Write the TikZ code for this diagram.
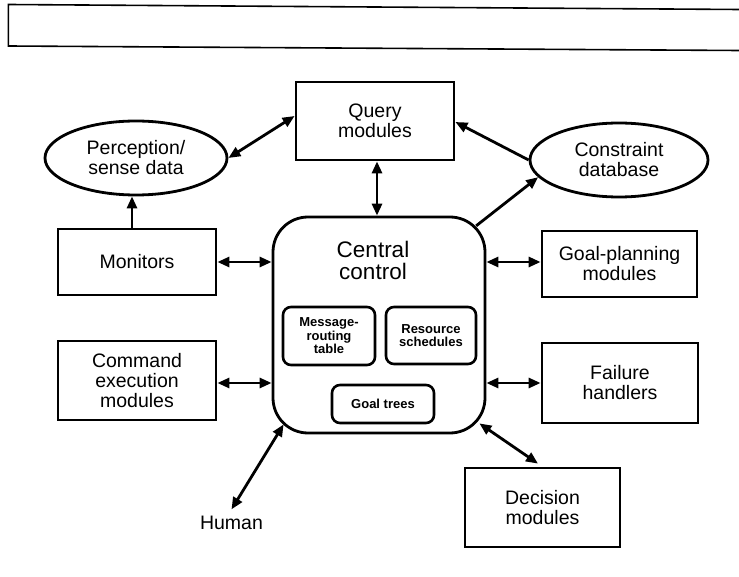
\documentclass[tikz,border=0pt]{standalone}
\usepackage{fontspec}
\setmainfont{Liberation Sans}
\usetikzlibrary{shapes.geometric,arrows.meta,calc}
\begin{document}
\begin{tikzpicture}[x=1pt,y=-1pt,
  lbl/.style={font=\fontsize{19.5}{20}\selectfont, align=center, inner sep=0pt},
  box/.style={lbl, draw, line width=2.8pt, rectangle},
  oval/.style={lbl, draw, line width=2.8pt, ellipse},
  smallbox/.style={draw, line width=2.6pt, rounded corners=8pt, align=center, inner sep=0pt,
     font=\fontsize{13}{13.5}\selectfont\bfseries},
  link/.style={line width=2.8pt, {Triangle[length=12pt,width=10pt]}-{Triangle[length=12pt,width=10pt]}},
  onelink/.style={line width=2.8pt, -{Triangle[length=12pt,width=10pt]}}
]
\useasboundingbox (0,0) rectangle (739,577);
% top frame (open on the right)
\draw[line width=1.6pt] (739,9.5) -- (8.3,4.5) -- (8.3,46) -- (739,50.5);

% nodes
\node[box, minimum width=158pt, minimum height=78pt] (q) at (375,121) {Query\\modules};
\node[oval, minimum width=182pt, minimum height=74pt] (perc) at (136,158) {Perception/\\sense data};
\node[oval, minimum width=178pt, minimum height=74pt] (cons) at (619,160) {Constraint\\database};
\node[draw, line width=2.8pt, rounded corners=35pt, minimum width=212pt, minimum height=216pt, inner sep=0pt] (cc) at (379,325) {};
\node[font=\fontsize{22.5}{22}\selectfont, align=center, inner sep=0pt] (cct) at (373,260) {Central\\control};
\node[smallbox, minimum width=92pt, minimum height=58pt] (msg) at (329,336) {Message-\\routing\\table};
\node[smallbox, minimum width=90pt, minimum height=57pt] (res) at (431,335.5) {Resource\\schedules};
\node[smallbox, minimum width=102pt, minimum height=38pt] (goal) at (383,404) {Goal trees};
\node[box, minimum width=158pt, minimum height=66pt] (mon) at (137,262) {Monitors};
\node[box, minimum width=158pt, minimum height=79pt] (cmd) at (137,380.5) {Command\\execution\\modules};
\node[box, minimum width=155pt, minimum height=66pt] (gp) at (619.5,264) {Goal-planning\\modules};
\node[box, minimum width=156pt, minimum height=80pt] (fail) at (620,383) {Failure\\handlers};
\node[box, minimum width=155pt, minimum height=79pt] (dec) at (542.5,507.5) {Decision\\modules};
\node[lbl, anchor=base] (hum) at (231.5,529) {Human};

% coordinates on the rounded corners of central control
\coordinate (ccNE) at ($(cc.north east)+(-10.25,10.25)$);
\coordinate (ccSW) at ($(cc.south west)+(12,-10)$);
\coordinate (ccSE) at ($(cc.south east)+(-7,-11)$);
\coordinate (humtop) at ($(hum.north)+(0,-6)$);

% connectors
\draw[link] (perc.east) -- ($(q.west)+(0,-5)$);
\draw[onelink] (cons.west) -- ($(q.east)+(0,1)$);
\draw[link] (q.south -| cc.north) ++(-2,0) coordinate (qs) -- (qs |- cc.north);
\draw[onelink] (ccNE) -- (cons.192);
\draw[onelink] (mon.north -| 132,0) coordinate (ms) -- (ms |- perc.south);
\draw[link] (mon.east) -- (mon.east -| cc.west);
\draw[link] ($(cmd.east)+(0,2.5)$) coordinate (ce) -- (ce -| cc.west);
\draw[link] (gp.west |- mon.east) coordinate (ge) -- (ge -| cc.east);
\draw[link] (fail.west) coordinate (fe) -- (fe -| cc.east);
\draw[link] (ccSE) -- ($(dec.north)+(-4.5,-3)$);
\draw[link] (ccSW) -- (humtop);
\end{tikzpicture}
\end{document}
